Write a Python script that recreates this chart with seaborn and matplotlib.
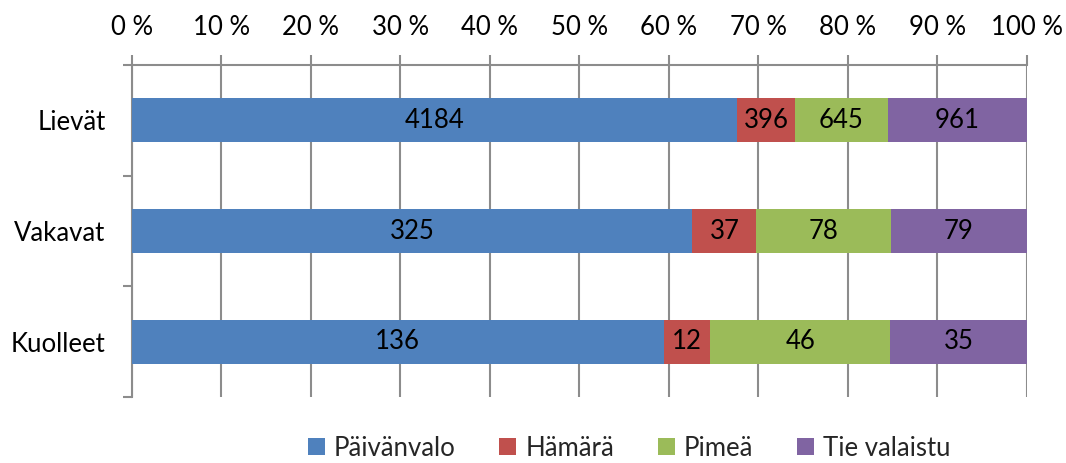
import numpy as np
import pandas as pd
import seaborn as sns
import matplotlib.pyplot as plt
from matplotlib.patches import Patch
from matplotlib.ticker import FixedLocator

# data
categories = ["Lievät", "Vakavat", "Kuolleet"]
series = ["Päivänvalo", "Hämärä", "Pimeä", "Tie valaistu"]
paivanvalo = [4184, 325, 136]
hamara = [396, 37, 12]
pimea = [645, 78, 46]
tie_valaistu = [961, 79, 35]
colors = ["#4F81BD", "#C0504D", "#9BBB59", "#8064A2"]

FS = 18.5

sns.set_theme(style="white")
plt.rcParams["font.family"] = ["Lato", "DejaVu Sans"]
plt.rcParams["font.size"] = FS

counts = np.array([paivanvalo, hamara, pimea, tie_valaistu], dtype=float)
pct = counts / counts.sum(axis=0) * 100
cum = np.cumsum(pct, axis=0)

fig = plt.figure(figsize=(10.66, 4.63), dpi=100)
ax = fig.add_axes([0.1238, 0.1425, 0.8396, 0.7171])

# draw stacked bars, widest cumulative first
for i in range(len(series) - 1, -1, -1):
    df = pd.DataFrame({"cat": categories, "val": cum[i]})
    sns.barplot(data=df, x="val", y="cat", orient="h", color=colors[i],
                width=0.4, saturation=1, ax=ax, edgecolor="none", zorder=3)

# value labels
for i in range(len(series)):
    for j in range(len(categories)):
        left = cum[i, j] - pct[i, j]
        ax.text(left + pct[i, j] / 2, j, f"{int(counts[i, j])}",
                ha="center", va="center", fontsize=FS, color="black", zorder=4)

ax.set_xlim(0, 100)
ax.set_ylim(2.5, -0.5)
ax.set_xticks(np.arange(0, 101, 10))
ax.set_xticklabels([f"{v} %" for v in range(0, 101, 10)])
ax.xaxis.tick_top()
ax.set_xlabel("")
ax.set_ylabel("")
ax.grid(axis="x", color="#8c8c8c", linewidth=1.5, zorder=0)
ax.set_axisbelow(True)

ax.yaxis.set_minor_locator(FixedLocator([-0.5, 0.5, 1.5, 2.5]))
ax.tick_params(axis="y", which="major", length=0, pad=19, labelsize=FS, colors="black")
ax.tick_params(axis="y", which="minor", left=True, length=6.5, width=1.5, color="#8c8c8c")
ax.tick_params(axis="x", which="major", top=True, bottom=False, length=7, width=1.5,
               color="#8c8c8c", pad=11, labelsize=FS, labelcolor="black")

for s in ["bottom", "right"]:
    ax.spines[s].set_visible(False)
for s in ["left", "top"]:
    ax.spines[s].set_color("#8c8c8c")
    ax.spines[s].set_linewidth(1.5)

handles = [Patch(facecolor=c, edgecolor="none") for c in colors]
fig.legend(handles, series, loc="lower center", bbox_to_anchor=(0.59, -0.045),
           ncol=4, frameon=False, fontsize=FS, handlelength=0.66, handleheight=0.66,
           handletextpad=0.35, columnspacing=1.7)

fig.savefig("out.png", dpi=100)
